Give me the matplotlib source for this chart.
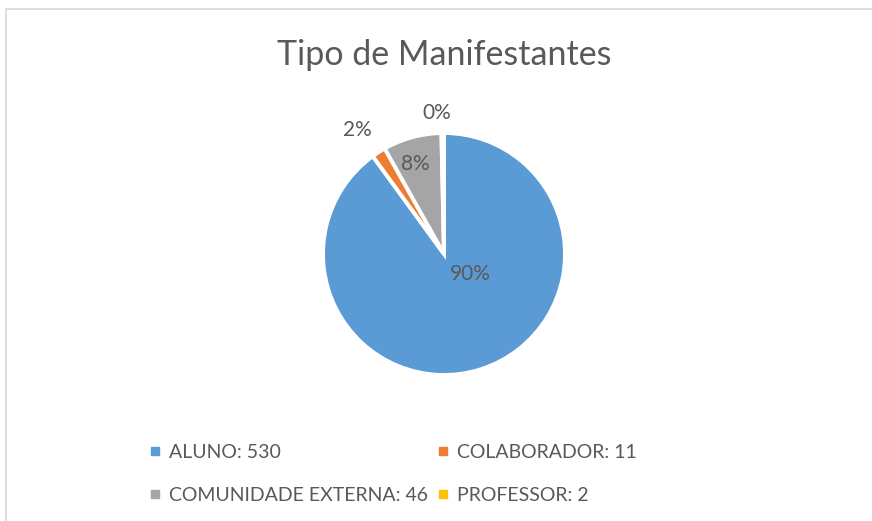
import matplotlib.pyplot as plt
from matplotlib.lines import Line2D
from matplotlib.patches import Rectangle
import numpy as np

plt.rcParams['font.family'] = ['Lato', 'DejaVu Sans']

categories = ["ALUNO", "COLABORADOR", "COMUNIDADE EXTERNA", "PROFESSOR"]
values = [530, 11, 46, 2]
colors = ["#5B9BD5", "#ED7D31", "#A5A5A5", "#FFC000"]
title = "Tipo de Manifestantes"

# where excel put the percentage labels (radius in pie units, angle in degrees)
label_r = [0.27, 1.25, 0.78, 1.17]
label_ang = [-37, 125, 108, 93]

txt = "#595959"

fig = plt.figure(figsize=(8.72, 5.21), dpi=100)
fig.patches.append(Rectangle((6 / 872, -0.1), 1.1, (521 - 9) / 521 + 0.1,
                             transform=fig.transFigure, fill=False,
                             edgecolor="#D9D9D9", linewidth=1.2))

ax = fig.add_axes([323 / 872, 146 / 521, 242 / 872, 242 / 521])
wedges, _, autotexts = ax.pie(values, colors=colors, startangle=90, counterclock=False,
                              autopct=lambda p: "%d%%" % round(p),
                              wedgeprops=dict(edgecolor="white", linewidth=2.8),
                              textprops=dict(color=txt, fontsize=15))
for t, r, a in zip(autotexts, label_r, label_ang):
    t.set_position((r * np.cos(np.radians(a)), r * np.sin(np.radians(a))))
ax.set_xlim(-1, 1)
ax.set_ylim(-1, 1)
ax.set_aspect("equal")

fig.text(444 / 872, 1 - 55 / 521, title, ha="center", va="center", fontsize=24.5, color=txt)

handles = [Line2D([], [], marker="s", linestyle="none", color=c, markersize=6) for c in colors]
labels = ["%s: %d" % (c, v) for c, v in zip(categories, values)]
order = [0, 2, 1, 3]
leg = fig.legend([handles[i] for i in order], [labels[i] for i in order], ncol=2,
                 loc="upper left", bbox_to_anchor=(131 / 872, 1 - 426 / 521),
                 frameon=False, fontsize=14, labelcolor=txt, handlelength=0.7,
                 handletextpad=0.35, columnspacing=0.45, labelspacing=1.35)

fig.savefig("out.png", dpi=100)
